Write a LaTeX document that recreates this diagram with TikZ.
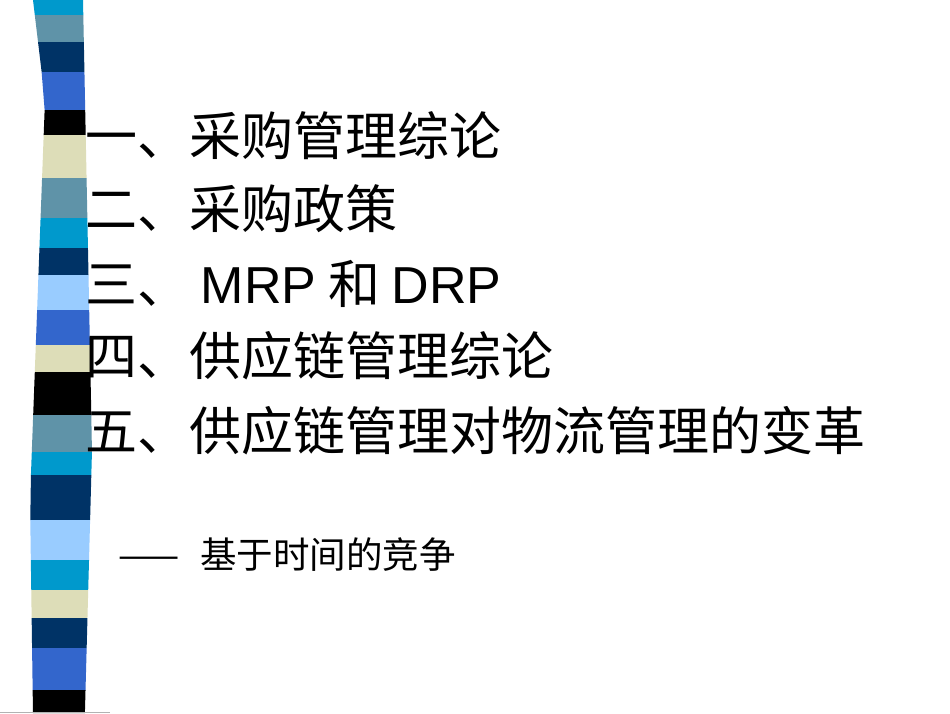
\documentclass[tikz,border=0pt]{standalone}
\usepackage{fontspec}
\newfontfamily\cjk{Noto Sans CJK SC}
\newfontfamily\arial{Liberation Sans}
\definecolor{cA}{HTML}{0099CC}\definecolor{cS}{HTML}{5F93A8}
\definecolor{cN}{HTML}{003366}\definecolor{cB}{HTML}{3366CC}
\definecolor{cK}{HTML}{000000}\definecolor{cE}{HTML}{DDDDB8}
\definecolor{cL}{HTML}{99CCFF}
\begin{document}
\begin{tikzpicture}[x=1pt,y=-1pt,
  item/.style={anchor=base west,inner sep=0pt,font=\cjk\fontsize{52}{52}\selectfont},
  sub/.style={anchor=base west,inner sep=0pt,font=\cjk\fontsize{36.5}{36}\selectfont}]
\useasboundingbox (0,0) rectangle (950,713);
\fill[white] (0,0) rectangle (950,713);
\def\band#1#2#3{%
  \pgfmathsetmacro\la{ifthenelse(#1<100,33+#1*0.12,ifthenelse(#1<500,45-(#1-100)*0.0375,30+(#1-500)*0.014))}%
  \pgfmathsetmacro\ra{ifthenelse(#1<450,83+#1*0.02,92-(#1-450)*0.027)}%
  \pgfmathsetmacro\lb{ifthenelse(#2<100,33+#2*0.12,ifthenelse(#2<500,45-(#2-100)*0.0375,30+(#2-500)*0.014))}%
  \pgfmathsetmacro\rb{ifthenelse(#2<450,83+#2*0.02,92-(#2-450)*0.027)}%
  \fill[#3] (\la,#1) -- (\ra,#1) -- (\rb,#2) -- (\lb,#2) -- cycle;}
\foreach \a/\b/\c in {0/15/cA,15/42/cS,42/72/cN,72/110/cB,110/135/cK,135/178/cE,178/218/cS,218/248/cA,248/275/cN,275/310/cL,310/345/cB,345/372/cE,372/415/cK,415/452/cS,452/475/cA,475/520/cN,520/560/cL,560/590/cA,590/618/cE,618/648/cN,648/690/cB,690/713/cK}
  {\band{\a}{\b}{\c}}
\draw[gray!60,line width=1pt] (0,712) -- (110,712);
\node[item] (t1) at (85,155) {一、采购管理综论};
\node[item] (t2) at (85,228) {二、采购政策};
\node[item] (t3) at (85,303) {三、 {\arial MRP} 和 {\arial DRP}};
\node[item] (t4) at (85,375) {四、供应链管理综论};
\node[item] (t5) at (85,450) {五、供应链管理对物流管理的变革};
\node[sub] (s) at (118,568) {——\hspace{21pt}基于时间的竞争};
\end{tikzpicture}
\end{document}
